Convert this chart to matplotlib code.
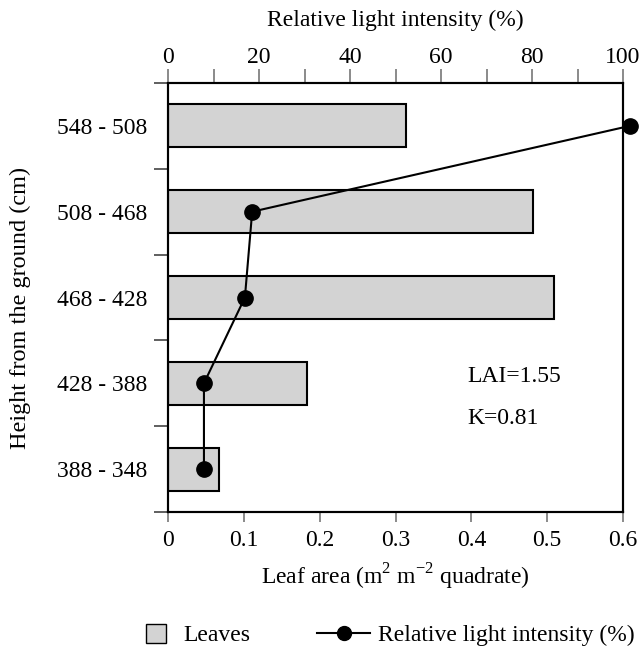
import matplotlib
matplotlib.use("Agg")
import matplotlib.pyplot as plt
from matplotlib.patches import Patch
from matplotlib.lines import Line2D
import numpy as np

categories = ["388 - 348", "428 - 388", "468 - 428", "508 - 468", "548 - 508"]
leaf_area = [0.067, 0.183, 0.509, 0.481, 0.314]
light = [7.9, 7.9, 16.9, 18.5, 101.5]

plt.rcParams['font.family'] = ['Liberation Serif', 'DejaVu Serif']
plt.rcParams['font.size'] = 17
plt.rcParams['mathtext.fontset'] = 'custom'
plt.rcParams['mathtext.rm'] = 'Liberation Serif'

fig = plt.figure(figsize=(6.43, 6.53), dpi=100)
ax = fig.add_axes([168/643, 1-512/653, (623-168)/643, (512-83)/653])

y = np.arange(len(categories))
ax.barh(y, leaf_area, height=0.5, color="#d3d3d3", edgecolor="black", linewidth=1.5, zorder=2)
ax.set_xlim(0, 0.6)
ax.set_ylim(-0.5, 4.5)
ax.set_xticks(np.arange(0, 0.61, 0.1))
ax.set_xticklabels(["0", "0.1", "0.2", "0.3", "0.4", "0.5", "0.6"])
ax.set_yticks(np.arange(-0.5, 4.6, 1))
ax.set_yticklabels([])
ax.set_yticks(y, minor=True)
ax.set_yticklabels(categories, minor=True)
ax.tick_params(axis='y', which='minor', length=0, pad=15)
ax.tick_params(axis='y', which='major', length=10, color="#444444", width=1.2)
ax.tick_params(axis='x', length=7, color="#777777", width=1.2, pad=6)
ax.set_xlabel("Leaf area (m$^2$ m$^{-2}$ quadrate)", labelpad=8)
ax.set_ylabel("Height from the ground (cm)", fontsize=17.5)
ax.yaxis.set_label_coords(-0.30, 0.475)
for s in ax.spines.values():
    s.set_linewidth(1.5)

ax2 = ax.twiny()
ax2.plot(light, y, color="black", linewidth=1.5, marker="o", markersize=11, clip_on=False, zorder=5)
ax2.set_xlim(0, 100)
ax2.set_xticks(np.arange(0, 101, 20))
ax2.set_xticks(np.arange(10, 100, 20), minor=True)
ax2.tick_params(axis='x', which='both', length=10, color="#777777", width=1.2, pad=1)
ax2.set_xlabel("Relative light intensity (%)", labelpad=15)
for s in ax2.spines.values():
    s.set_linewidth(1.5)

ax.text(0.395, 1.015, "LAI=1.55", fontsize=17, va="baseline")
ax.text(0.395, 0.526, "K=0.81", fontsize=17, va="baseline")

leg1 = fig.legend([Patch(facecolor="#d3d3d3", edgecolor="black", linewidth=1.0)], ["Leaves"],
                  loc="center left", bbox_to_anchor=(146/643, 1-635/653), frameon=False,
                  fontsize=17, handlelength=0.85, handleheight=0.85, handletextpad=0.72,
                  borderpad=0, borderaxespad=0)
leg2 = fig.legend([Line2D([0], [0], color="black", linewidth=1.5, marker="o", markersize=10)],
                  ["Relative light intensity (%)"],
                  loc="center left", bbox_to_anchor=(317/643, 1-635/653), frameon=False,
                  fontsize=17, handlelength=2.25, handletextpad=0.34,
                  borderpad=0, borderaxespad=0)

fig.savefig("out.png", dpi=100)
